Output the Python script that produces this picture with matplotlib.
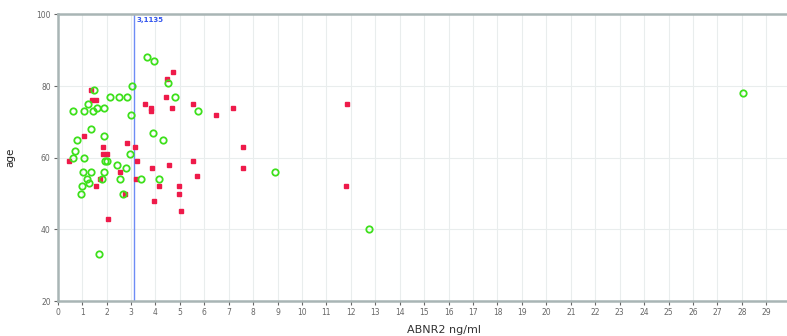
import matplotlib.pyplot as plt

# green ring markers
green_x = [3.66, 3.94, 4.52, 3.05, 1.50, 2.14, 2.49, 2.83, 4.79, 1.25, 1.62, 1.91,
           0.64, 1.06, 1.44, 5.75, 2.99, 1.35, 3.91, 1.89, 0.79, 4.29, 0.71, 2.94,
           0.61, 1.09, 1.95, 2.00, 2.41, 2.78, 1.02, 1.36, 1.91, 1.19, 1.82, 2.56,
           3.41, 4.14, 1.29, 0.98, 0.97, 2.67, 1.68, 8.89, 12.75, 28.03]
green_y = [88, 87, 81, 80, 79, 77, 77, 77, 77, 75, 74, 74,
           73, 73, 73, 73, 72, 68, 67, 66, 65, 65, 62, 61,
           60, 60, 59, 59, 58, 57, 56, 56, 56, 54, 54, 54,
           54, 54, 53, 52, 50, 50, 33, 56, 40, 78]

# red square markers
red_x = [4.74, 4.48, 1.35, 1.40, 1.57, 4.43, 3.56, 5.55, 3.83, 3.83, 4.69, 7.16,
         6.46, 1.08, 2.85, 1.87, 3.18, 7.58, 1.84, 2.00, 0.46, 3.26, 5.52, 4.54,
         3.86, 7.58, 2.56, 5.70, 1.73, 3.20, 1.55, 4.16, 4.96, 2.77, 4.96, 3.93,
         5.03, 2.06, 11.85, 11.79]
red_y = [84, 82, 79, 76, 76, 77, 75, 75, 74, 73, 74, 74,
         72, 66, 64, 63, 63, 63, 61, 61, 59, 59, 59, 58,
         57, 57, 56, 55, 54, 54, 52, 52, 52, 50, 50, 48,
         45, 43, 75, 52]

cutoff = 3.1135
xticks = list(range(0, 30))
yticks = [20, 40, 60, 80, 100]

fig = plt.figure(figsize=(7.87, 3.36), dpi=100)
ax = fig.add_axes([0.0733, 0.104, 0.9267, 0.853])

ax.plot(red_x, red_y, 's', ms=3.2, color='#ee1a4a', mec='#ee1a4a', zorder=3)
ax.plot(green_x, green_y, 'o', ms=4.6, mfc='none', mec='#3ee01c', mew=1.3, zorder=4)

ax.axvline(cutoff, color='#6d8cf5', lw=1.0, zorder=2)
ax.text(cutoff + 0.1, 98.5, str(cutoff).replace('.', ','), color='#3355ee',
        fontsize=5, fontweight='bold', va='center', ha='left')

ax.set_xlim(0, 29.85)
ax.set_ylim(20, 100)
ax.set_xticks(xticks)
ax.set_yticks(yticks)
ax.tick_params(labelsize=5.5, colors='#666666', length=3, width=0.8, pad=2)
ax.grid(True, color='#e9eded', lw=0.8)
ax.set_axisbelow(True)

for side in ['left', 'top', 'bottom']:
    ax.spines[side].set_color('#a9b5b5')
    ax.spines[side].set_linewidth(1.8)
ax.spines['right'].set_visible(False)

ax.set_xlabel('ABNR2 ng/ml', fontsize=8, color='#333333')
ax.xaxis.set_label_coords(0.53, -0.085)
ax.set_ylabel('age', fontsize=7.5, color='#222222')
ax.yaxis.set_label_coords(-0.058, 0.5)

fig.savefig('out.png', dpi=100)
